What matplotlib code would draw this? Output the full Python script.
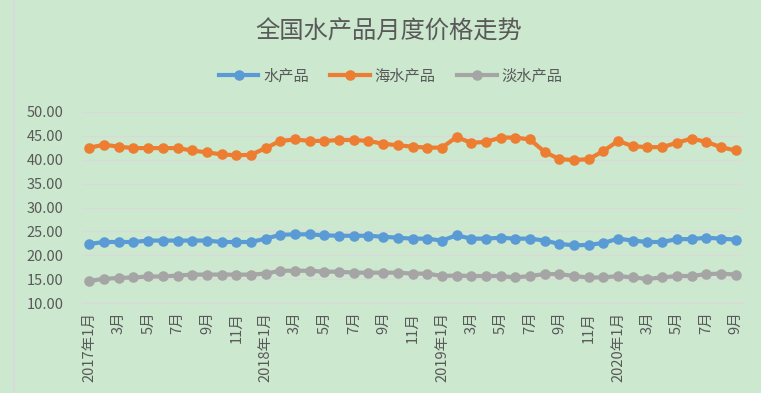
import matplotlib
matplotlib.use("Agg")
import matplotlib.pyplot as plt
from matplotlib.lines import Line2D

BG = "#CCE8CF"
GRID = "#D9D9D9"
TEXT = "#595959"
BLUE = "#5B9BD5"
ORANGE = "#ED7D31"
GRAY = "#A5A5A5"

plt.rcParams["font.family"] = ["Noto Sans CJK SC", "DejaVu Sans"]

# monthly, 2017-01 .. 2020-09
months = [f"{y}-{m:02d}" for y in range(2017, 2021) for m in range(1, 13)][:45]

aquatic = [22.4, 22.8, 22.8, 22.8, 23.1, 23.1, 23.1, 23.1, 23.1, 22.8, 22.8, 22.8,
           23.5, 24.3, 24.4, 24.4, 24.2, 24.1, 24.1, 24.1, 23.9, 23.7, 23.5, 23.5,
           23.1, 24.2, 23.5, 23.5, 23.7, 23.5, 23.5, 23.1, 22.4, 22.1, 22.2, 22.6,
           23.5, 23.1, 22.8, 22.8, 23.4, 23.4, 23.7, 23.5, 23.3]
marine = [42.5, 43.1, 42.7, 42.4, 42.4, 42.4, 42.4, 41.9, 41.5, 41.1, 40.9, 41.0,
          42.4, 43.9, 44.2, 43.9, 43.9, 44.1, 44.1, 43.9, 43.3, 43.0, 42.7, 42.5,
          42.5, 44.7, 43.5, 43.7, 44.6, 44.6, 44.2, 41.6, 40.1, 39.9, 40.1, 41.8,
          43.9, 42.8, 42.6, 42.6, 43.5, 44.4, 43.7, 42.6, 41.9]
freshwater = [14.7, 15.1, 15.3, 15.4, 15.6, 15.6, 15.8, 16.0, 16.0, 16.0, 16.0, 16.0,
              16.2, 16.8, 16.8, 16.8, 16.6, 16.6, 16.4, 16.4, 16.4, 16.4, 16.2, 16.2,
              15.7, 15.8, 15.7, 15.7, 15.7, 15.4, 15.7, 16.1, 16.1, 15.7, 15.4, 15.4,
              15.7, 15.4, 15.1, 15.4, 15.7, 15.7, 16.1, 16.2, 16.0]

series_names = ["水产品", "海水产品", "淡水产品"]
tick_labels = ["2017年1月", "3月", "5月", "7月", "9月", "11月",
               "2018年1月", "3月", "5月", "7月", "9月", "11月",
               "2019年1月", "3月", "5月", "7月", "9月", "11月",
               "2020年1月", "3月", "5月", "7月", "9月"]
y_ticks = [10, 15, 20, 25, 30, 35, 40, 45, 50]

fig = plt.figure(figsize=(7.61, 3.93), dpi=100, facecolor=BG)
ax = fig.add_axes([0.1078, 0.2282, 0.8685, 0.4876], facecolor=BG)

x = list(range(len(months)))
handles = []
for values, color, name in zip([aquatic, marine, freshwater], [BLUE, ORANGE, GRAY], series_names):
    (line,) = ax.plot(x, values, color=color, linewidth=3.0, marker="o",
                      markersize=7.6, markeredgewidth=0, label=name, zorder=3)
    handles.append(line)

ax.set_xlim(-0.5, len(months) - 0.5)
ax.set_ylim(10, 50)
ax.set_yticks(y_ticks)
ax.set_yticklabels([f"{v:.2f}" for v in y_ticks], fontsize=10.5, color=TEXT)
ax.set_xticks(x[::2])
ax.set_xticklabels(tick_labels, rotation=90, fontsize=10.5, color=TEXT, va="top")
ax.tick_params(axis="both", length=0)
ax.tick_params(axis="y", pad=13.5)
ax.tick_params(axis="x", pad=6)
ax.yaxis.grid(True, color=GRID, linewidth=1.0)
ax.set_axisbelow(True)
for spine in ("top", "right", "left"):
    ax.spines[spine].set_visible(False)
ax.spines["bottom"].set_color(GRID)
ax.spines["bottom"].set_linewidth(1.0)

fig.text(0.511, 0.92, "全国水产品月度价格走势", ha="center", va="center",
         fontsize=17.5, color=TEXT)
fig.legend(handles=handles, loc="center", bbox_to_anchor=(0.513, 0.806), ncol=3,
           frameon=False, fontsize=11, labelcolor=TEXT, handlelength=2.6,
           handletextpad=0.3, columnspacing=1.4)

fig.add_artist(Line2D([14 / 761, 14 / 761], [0, 1], color=GRID, linewidth=1.2))

fig.savefig("out.png", dpi=100, facecolor=BG)
